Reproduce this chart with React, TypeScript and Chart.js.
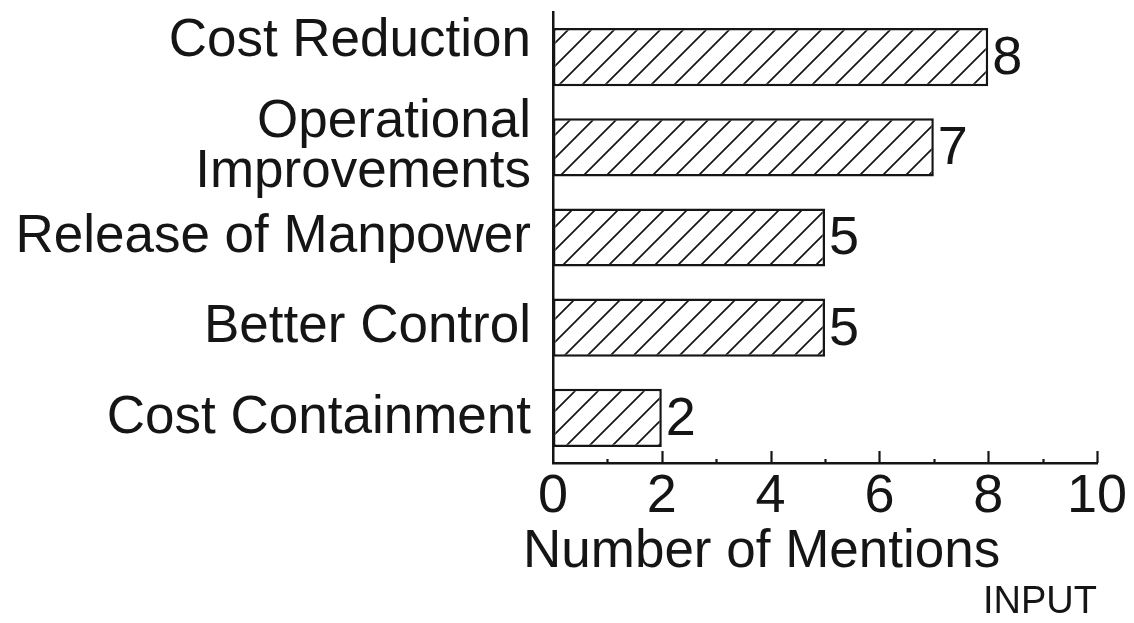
import React, { useEffect, useRef } from "react";
import { Chart, registerables } from "chart.js";

Chart.register(...registerables);

// ---- data ----
const categories: string[][] = [
  ["Cost Reduction", ""],
  ["Operational", "Improvements"],
  ["Release of Manpower"],
  ["Better Control"],
  ["Cost Containment"],
];
const mentions: number[] = [8, 7, 5, 5, 2];
const xMin = 0;
const xMax = 10;
const xStep = 2;
const xTitle = "Number of Mentions";
const footnote = "INPUT";

const FONT = "'Liberation Sans', Arial, Helvetica, sans-serif";
const INK = "#151515";

function makeHatch(ctx: CanvasRenderingContext2D): CanvasPattern | string {
  const size = 23;
  const c = document.createElement("canvas");
  c.width = size;
  c.height = size;
  const g = c.getContext("2d");
  if (!g) return "#fff";
  g.fillStyle = "#ffffff";
  g.fillRect(0, 0, size, size);
  g.strokeStyle = INK;
  g.lineWidth = 1.7;
  g.beginPath();
  g.moveTo(-3, size + 3);
  g.lineTo(size + 3, -3);
  g.moveTo(-3, 3);
  g.lineTo(3, -3);
  g.moveTo(size - 3, size + 3);
  g.lineTo(size + 3, size - 3);
  g.stroke();
  return ctx.createPattern(c, "repeat") || "#fff";
}

const valueLabels = {
  id: "valueLabels",
  afterDatasetsDraw(chart: any) {
    const ctx = chart.ctx;
    const meta = chart.getDatasetMeta(0);
    const data = chart.data.datasets[0].data as number[];
    ctx.save();
    ctx.fillStyle = INK;
    ctx.font = `54px ${FONT}`;
    ctx.textAlign = "left";
    ctx.textBaseline = "middle";
    meta.data.forEach((el: any, i: number) => {
      ctx.fillText(String(data[i]), el.x + 4, el.y + 2);
    });
    ctx.restore();
  },
};

const axisDecor = {
  id: "axisDecor",
  afterDraw(chart: any) {
    const ctx = chart.ctx;
    const xs = chart.scales.x;
    const area = chart.chartArea;
    ctx.save();
    ctx.strokeStyle = INK;
    ctx.lineWidth = 2.2;
    for (let v = xMin + 1; v <= xMax; v++) {
      const px = Math.round(xs.getPixelForValue(v)) + 0.5;
      const len = v % xStep === 0 ? 12 : 4;
      ctx.beginPath();
      ctx.moveTo(px, area.bottom);
      ctx.lineTo(px, area.bottom - len);
      ctx.stroke();
    }
    ctx.fillStyle = INK;
    ctx.textBaseline = "alphabetic";
    ctx.font = `53px ${FONT}`;
    ctx.textAlign = "left";
    ctx.fillText(xTitle, area.left - 30, area.bottom + 104);
    ctx.font = `38px ${FONT}`;
    ctx.textAlign = "right";
    ctx.fillText(footnote, area.right, area.bottom + 150);
    ctx.restore();
  },
};

export default function App() {
  const ref = useRef<HTMLCanvasElement | null>(null);

  useEffect(() => {
    document.body.style.margin = "0";
    const canvas = ref.current;
    if (!canvas) return;
    const ctx = canvas.getContext("2d");
    if (!ctx) return;
    const hatch = makeHatch(ctx);

    const chart = new Chart(ctx, {
      type: "bar",
      data: {
        labels: categories,
        datasets: [
          {
            data: mentions,
            backgroundColor: hatch as any,
            borderColor: INK,
            borderWidth: 2.5,
            borderSkipped: false,
            categoryPercentage: 1,
            barPercentage: 0.645,
          },
        ],
      },
      options: {
        indexAxis: "y",
        responsive: false,
        animation: false,
        events: [],
        layout: { padding: { top: 12, right: 37, left: 0, bottom: 0 } },
        plugins: {
          legend: { display: false },
          tooltip: { enabled: false },
          title: { display: false },
        },
        scales: {
          x: {
            type: "linear",
            min: xMin,
            max: xMax,
            ticks: {
              stepSize: xStep,
              autoSkip: false,
              maxRotation: 0,
              padding: 2,
              color: INK,
              font: { family: FONT, size: 54 },
            },
            grid: { display: false, drawTicks: false },
            border: { display: true, color: INK, width: 2.5 },
            afterFit(scale: any) {
              scale.height = 160;
              scale.paddingTop = 0;
              scale.paddingBottom = 0;
            },
          },
          y: {
            type: "category",
            ticks: {
              padding: 22,
              color: INK,
              autoSkip: false,
              font: (c: any) => ({
                family: FONT,
                size: 53,
                lineHeight: c.index === 0 ? 0.6 : 0.95,
              }),
            },
            grid: { display: false, drawTicks: false },
            border: { display: true, color: INK, width: 2.5 },
            afterFit(scale: any) {
              scale.width = 553;
              scale.paddingTop = 0;
              scale.paddingBottom = 0;
            },
          },
        },
      },
      plugins: [valueLabels, axisDecor],
    });

    return () => chart.destroy();
  }, []);

  return (
    <div style={{ width: 1134, height: 623, background: "#fff" }}>
      <canvas ref={ref} width={1134} height={623} />
    </div>
  );
}
